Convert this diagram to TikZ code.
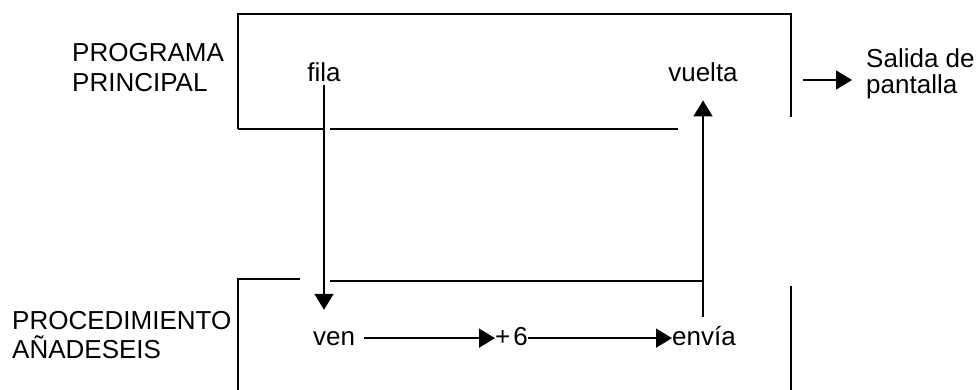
\documentclass[tikz,border=0pt]{standalone}
\usepackage{fontspec}
\setmainfont{Liberation Sans}
\usetikzlibrary{arrows.meta}
\begin{document}
\begin{tikzpicture}[x=1pt,y=-1pt,
  lbl/.style={inner sep=0pt, font=\fontsize{26}{30}\selectfont},
  boxline/.style={line width=2.6pt},
  thinbox/.style={line width=2pt},
  conn/.style={line width=2pt},
  hconn/.style={line width=1.5pt},
  tip/.style={-{Triangle[length=16pt,width=19pt]}}
]
\useasboundingbox (0,0) rectangle (980,390);

% texts
\node[lbl, anchor=base west, align=left] (pp) at (72,92) {PROGRAMA\\PRINCIPAL};
\node[lbl, anchor=base] (fila) at (324,82) {fila};
\node[lbl, anchor=base] (vuelta) at (703,82) {vuelta};
\node[lbl, anchor=base west, align=left, font=\fontsize{26}{26}\selectfont] (salida) at (866,94) {Salida de\\pantalla};
\node[lbl, anchor=base west, align=left, font=\fontsize{26}{29}\selectfont] (proc) at (12,358) {PROCEDIMIENTO\\AÑADESEIS};
\node[lbl, anchor=base west] (ven) at (313,345) {ven};
\node[lbl, anchor=base west] (seis) at (495,345) {+\kern3pt6};
\node[lbl, anchor=base west] (envia) at (672,345) {envía};

% upper box (programa principal)
\draw[boxline] (238,129) -- (238,14) -- (791,14) -- (791,117);
\draw[boxline] (238,129) -- (324,129);
\draw[boxline] (330,129) -- (678,129);

% lower box (procedimiento)
\draw[thinbox] (300,279) -- (238,279) -- (238,390);
\draw[boxline] (330,281) -- (702,281);
\draw[boxline] (791,286) -- (791,390);

% connectors
\draw[conn, tip, shorten <=3pt, shorten >=21pt] (fila.south) -- (fila.south |- ven.north);
\draw[conn, tip, shorten <=9pt, shorten >=18pt] (vuelta.south |- envia.north) -- (vuelta.south);
\draw[hconn, tip, shorten <=9pt] (ven.east) -- (seis.west |- ven.east);
\draw[hconn, tip] (seis.east |- ven.east) -- (envia.west |- ven.east);
\coordinate (s0) at (803,80);
\draw[hconn, tip, shorten >=14pt] (s0) -- (s0 -| salida.west);
\end{tikzpicture}
\end{document}
